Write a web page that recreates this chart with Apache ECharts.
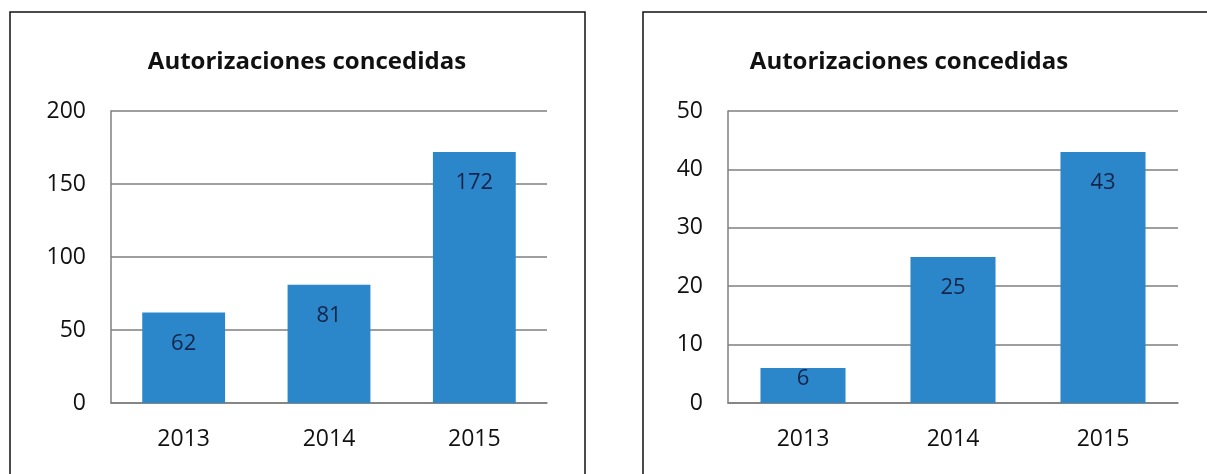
<!DOCTYPE html>
<html>
<head>
<meta charset="utf-8">
<script src="https://cdn.jsdelivr.net/npm/echarts@6/dist/echarts.min.js"></script>
<style>
html,body{margin:0;padding:0;background:#fff;}
#c{width:1207px;height:474px;}
</style>
</head>
<body>
<div id="c"></div>
<script>
const categories = ['2013', '2014', '2015'];
const titleText = 'Autorizaciones concedidas';
const valuesLeft = [62, 81, 172];
const valuesRight = [6, 25, 43];
const leftAxisMax = 200, leftAxisStep = 50;
const rightAxisMax = 50, rightAxisStep = 10;

const FONT = '"Open Sans", sans-serif';
const BAR = '#2b87c9';
const GRIDC = '#7f7f7f';
const TXT = '#111';

const chart = echarts.init(document.getElementById('c'), null, {renderer: 'canvas'});

function xAxisCfg(gi) {
  return {
    type: 'category', gridIndex: gi, data: categories,
    axisLine: {show: true, lineStyle: {color: GRIDC, width: 1.5}},
    axisTick: {show: false},
    axisLabel: {color: TXT, fontFamily: FONT, fontSize: 23, margin: 25}
  };
}
function yAxisCfg(gi, max, step) {
  return {
    type: 'value', gridIndex: gi, min: 0, max: max, interval: step,
    axisLine: {show: true, lineStyle: {color: GRIDC, width: 1.5}},
    axisTick: {show: false},
    splitLine: {show: true, lineStyle: {color: GRIDC, width: 1.5}},
    axisLabel: {color: TXT, fontFamily: FONT, fontSize: 23, margin: 25}
  };
}
function labelCfg() {
  return {show: true, position: 'insideTop', distance: 20, color: '#15244a',
          fontFamily: FONT, fontSize: 22};
}

chart.setOption({
  animation: false,
  backgroundColor: '#fff',
  title: [
    {text: titleText, left: 302, top: 45, textAlign: 'center',
     textStyle: {fontFamily: FONT, fontWeight: 'bold', fontSize: 24, color: TXT}},
    {text: titleText, left: 904, top: 45, textAlign: 'center',
     textStyle: {fontFamily: FONT, fontWeight: 'bold', fontSize: 24, color: TXT}}
  ],
  graphic: [
    {type: 'rect', shape: {x: 10, y: 12, width: 575, height: 520},
     style: {fill: 'none', stroke: '#111', lineWidth: 1.5}, silent: true},
    {type: 'rect', shape: {x: 643, y: 12, width: 620, height: 520},
     style: {fill: 'none', stroke: '#111', lineWidth: 1.5}, silent: true}
  ],
  grid: [
    {left: 111, right: 660, top: 111, bottom: 71},
    {left: 728, right: 29, top: 111, bottom: 71}
  ],
  xAxis: [xAxisCfg(0), xAxisCfg(1)],
  yAxis: [yAxisCfg(0, leftAxisMax, leftAxisStep), yAxisCfg(1, rightAxisMax, rightAxisStep)],
  series: [
    {type: 'bar', xAxisIndex: 0, yAxisIndex: 0, barWidth: '57%',
     itemStyle: {color: BAR}, label: labelCfg(), data: valuesLeft},
    {type: 'bar', xAxisIndex: 1, yAxisIndex: 1, barWidth: '56.7%',
     itemStyle: {color: BAR}, label: labelCfg(),
     data: valuesRight.map((v, i) => i === 0 ? {value: v, label: {distance: 0}} : v)}
  ]
});
</script>
</body>
</html>
